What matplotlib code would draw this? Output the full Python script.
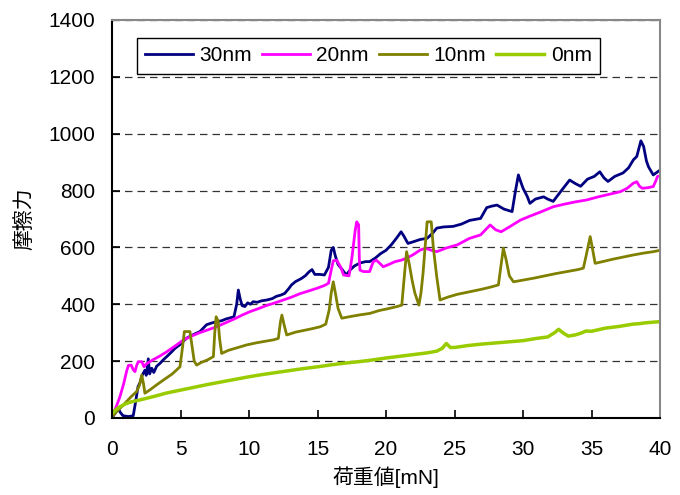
import matplotlib
matplotlib.use("Agg")
import matplotlib.pyplot as plt

plt.rcParams['font.family'] = ['Liberation Sans', 'Noto Sans CJK JP', 'DejaVu Sans']
plt.rcParams['font.size'] = 15

# data (load mN, friction)
x30 = [0, 0.2, 0.45, 0.6, 0.8, 1.2, 1.55, 1.7, 1.9, 2.05, 2.2, 2.4, 2.5, 2.65, 2.75, 2.9, 3.05,
       3.26, 3.5, 3.75, 4.0, 4.3, 4.6, 4.96, 5.2, 5.45, 5.8, 6.1, 6.42, 6.7, 6.9, 7.2, 7.64, 8.0,
       8.3, 8.6, 8.9, 9.1, 9.22, 9.35, 9.5, 9.7, 9.9, 10.1, 10.3, 10.6, 10.9, 11.3, 11.7, 12.0,
       12.3, 12.6, 12.9, 13.1, 13.4, 13.8, 14.1, 14.4, 14.6, 14.8, 15.2, 15.5, 15.8, 16.0, 16.15,
       16.3, 16.5, 16.8, 17.1, 17.4, 17.7, 18.1, 18.5, 18.8, 19.2, 19.6, 20.0, 20.4, 20.8, 21.1,
       21.3, 21.6, 22.0, 22.5, 23.0, 23.4, 23.7, 24.2, 24.9, 25.5, 26.1, 26.9, 27.35, 27.7, 28.1,
       28.6, 29.2, 29.45, 29.66, 29.8, 30.0, 30.3, 30.5, 30.9, 31.5, 31.8, 32.2, 32.8, 33.4, 33.8,
       34.2, 34.7, 35.2, 35.6, 35.9, 36.2, 36.7, 37.3, 37.7, 38.05, 38.3, 38.6, 38.8, 39.0, 39.15,
       39.5, 39.8, 40.0]
y30 = [0, 15, 35, 20, 8, 5, 8, 50, 110, 125, 150, 168, 150, 208, 155, 175, 160,
       182, 192, 205, 216, 230, 245, 258, 270, 281, 290, 297, 304, 318, 328, 333, 339, 342,
       348, 352, 356, 400, 450, 420, 395, 392, 405, 400, 409, 407, 412, 415, 420, 428,
       432, 438, 455, 468, 480, 490, 500, 515, 522, 505, 505, 503, 530, 590, 600,
       570, 540, 522, 503, 522, 535, 545, 550, 550, 562, 578, 590, 610, 635, 655,
       640, 614, 620, 628, 632, 650, 668, 672, 674, 682, 695, 702, 740, 745, 749,
       735, 726, 800, 855, 835, 808, 780, 755, 770, 778, 770, 762, 800, 837, 825,
       815, 840, 850, 866, 845, 832, 850, 862, 880, 908, 920, 975, 955, 905, 884,
       855, 865, 872]

x20 = [0, 0.1, 0.35, 0.58, 0.85, 1.07, 1.2, 1.4, 1.55, 1.68, 1.8, 1.92, 2.17, 2.34, 2.5, 2.77,
       3.0, 3.5, 4.0, 4.6, 5.2, 5.8, 6.4, 7.0, 7.64, 8.3, 9.0, 9.5, 10.07, 10.7, 11.3, 11.9, 12.5,
       13.1, 13.7, 14.3, 14.94, 15.5, 15.8, 16.0, 16.15, 16.4, 16.7, 16.9, 17.3, 17.5, 17.6, 17.75,
       17.86, 18.0, 18.05, 18.1, 18.35, 18.8, 19.07, 19.3, 19.8, 20.2, 20.66, 21.1, 21.5, 22.0,
       22.5, 22.9, 23.3, 23.7, 24.4, 25.2, 26.1, 26.9, 27.6, 28.0, 28.4, 29.1, 29.8, 30.5, 31.3,
       32.2, 33.0, 33.8, 34.65, 35.5, 36.3, 37.1, 37.6, 38.05, 38.3, 38.5, 38.7, 39.1, 39.5, 39.7,
       39.8, 40.0]
y20 = [0, 16, 45, 75, 120, 165, 185, 186, 170, 163, 185, 198, 198, 180, 190, 198,
       205, 218, 233, 253, 274, 288, 300, 310, 321, 335, 350, 362, 374, 385, 396, 405, 415,
       425, 437, 446, 456, 466, 474, 520, 553, 555, 530, 503, 500, 560, 600, 660,
       690, 680, 560, 520, 515, 515, 550, 555, 532, 540, 550, 555, 562, 575,
       591, 597, 590, 585, 598, 609, 632, 644, 679, 662, 655, 675, 696, 710, 725,
       743, 752, 760, 767, 778, 787, 796, 808, 826, 831, 815, 808, 810, 814, 835,
       849, 852]

x10 = [0, 0.1, 0.5, 0.95, 1.4, 1.8, 2.0, 2.17, 2.3, 2.4, 2.8, 3.3, 3.8, 4.4, 4.96, 5.15, 5.28,
       5.69, 5.85, 6.0, 6.18, 6.5, 7.0, 7.4, 7.5, 7.6, 7.75, 7.85, 8.0, 8.5, 9.2, 9.83, 10.5, 11.2,
       11.8, 12.14, 12.3, 12.4, 12.55, 12.75, 13.4, 14.0, 14.6, 15.2, 15.6, 15.85, 16.0, 16.15,
       16.3, 16.5, 16.77, 17.3, 18.0, 18.83, 19.5, 20.2, 20.8, 21.15, 21.3, 21.5, 21.7, 21.9, 22.1,
       22.4, 22.55, 22.7, 22.85, 23.0, 23.3, 23.45, 23.7, 23.94, 24.5, 25.2, 26.1, 26.9, 27.6,
       28.2, 28.4, 28.56, 28.75, 29.0, 29.3, 30.0, 30.8, 31.6, 32.4, 33.2, 34.0, 34.4, 34.6, 34.9,
       35.05, 35.26, 35.8, 36.5, 37.3, 38.0, 38.8, 39.5, 40.0]
y10 = [0, 10, 30, 52, 75, 93, 115, 151, 120, 87, 100, 118, 135, 155, 180, 250, 304,
       304, 250, 200, 186, 195, 205, 216, 300, 356, 340, 280, 227, 238, 248, 257, 264, 270,
       275, 280, 340, 362, 330, 292, 302, 308, 314, 321, 330, 380, 440, 479,
       440, 385, 351, 356, 362, 368, 378, 385, 392, 397, 480, 585, 540, 485, 440,
       397, 440, 509, 600, 690, 690, 600, 497, 415, 425, 435, 444, 452, 460,
       468, 540, 597, 560, 500, 479, 485, 492, 500, 508, 515, 522, 527, 570, 638,
       600, 544, 550, 558, 566, 573, 580, 585, 590]

x0 = [0, 0.3, 0.6, 1.0, 1.5, 2.0, 3.0, 4.0, 5.0, 6.0, 7.0, 8.0, 9.0, 10.0, 11.0, 12.0, 13.0,
      14.0, 15.0, 16.0, 17.0, 18.0, 19.0, 20.0, 21.0, 22.0, 23.0, 23.7, 24.1, 24.4, 24.7, 25.0,
      26.0, 27.0, 28.0, 29.0, 30.0, 31.0, 31.8, 32.3, 32.6, 32.9, 33.3, 33.8, 34.2, 34.6, 35.0,
      36.0, 37.0, 38.0, 38.5, 39.0, 40.0]
y0 = [15, 30, 40, 50, 58, 63, 75, 88, 98, 108, 118, 127, 136, 145, 153, 160, 167,
      174, 180, 187, 193, 198, 204, 211, 217, 223, 229, 235, 245, 262, 248, 248,
      255, 260, 264, 268, 272, 280, 285, 300, 312, 300, 288, 292, 298, 306, 305,
      316, 322, 330, 332, 335, 339]

fig = plt.figure(figsize=(6.8, 4.95), dpi=100)
ax = fig.add_axes([0.1647, 0.1556, 0.806, 0.804])

ax.plot(x30, y30, color='#000080', lw=2.0, label='30nm')
ax.plot(x20, y20, color='#FF00FF', lw=2.0, label='20nm')
ax.plot(x10, y10, color='#808000', lw=2.0, label='10nm')
ax.plot(x0, y0, color='#99CC00', lw=2.5, label='0nm')

ax.set_xlim(0, 40)
ax.set_ylim(0, 1400)
ax.set_xticks(range(0, 41, 5))
ax.set_yticks(range(0, 1401, 200))
ax.yaxis.grid(True, linestyle=(0, (6, 4)), color='#333333', lw=0.9)
ax.set_axisbelow(True)
ax.tick_params(direction='in', length=6, width=1.2, labelsize=15)
ax.tick_params(axis='x', pad=16)
ax.tick_params(axis='y', pad=12)

for s in ['left', 'bottom']:
    ax.spines[s].set_color('black')
    ax.spines[s].set_linewidth(1.5)
for s in ['top', 'right']:
    ax.spines[s].set_color('#888888')
    ax.spines[s].set_linewidth(1.5)

ax.set_xlabel('荷重値[mN]', fontsize=15, labelpad=5)
ax.set_ylabel('摩擦力', fontsize=15, labelpad=10)

leg = ax.legend(loc='upper left', bbox_to_anchor=(0.045, 0.955), borderaxespad=0,
                ncol=4, handlelength=2.3, handletextpad=0.3, columnspacing=0.5,
                fancybox=False, framealpha=1, edgecolor='black', fontsize=15)
leg.get_frame().set_linewidth(1.0)

fig.savefig('out.png', dpi=100)
